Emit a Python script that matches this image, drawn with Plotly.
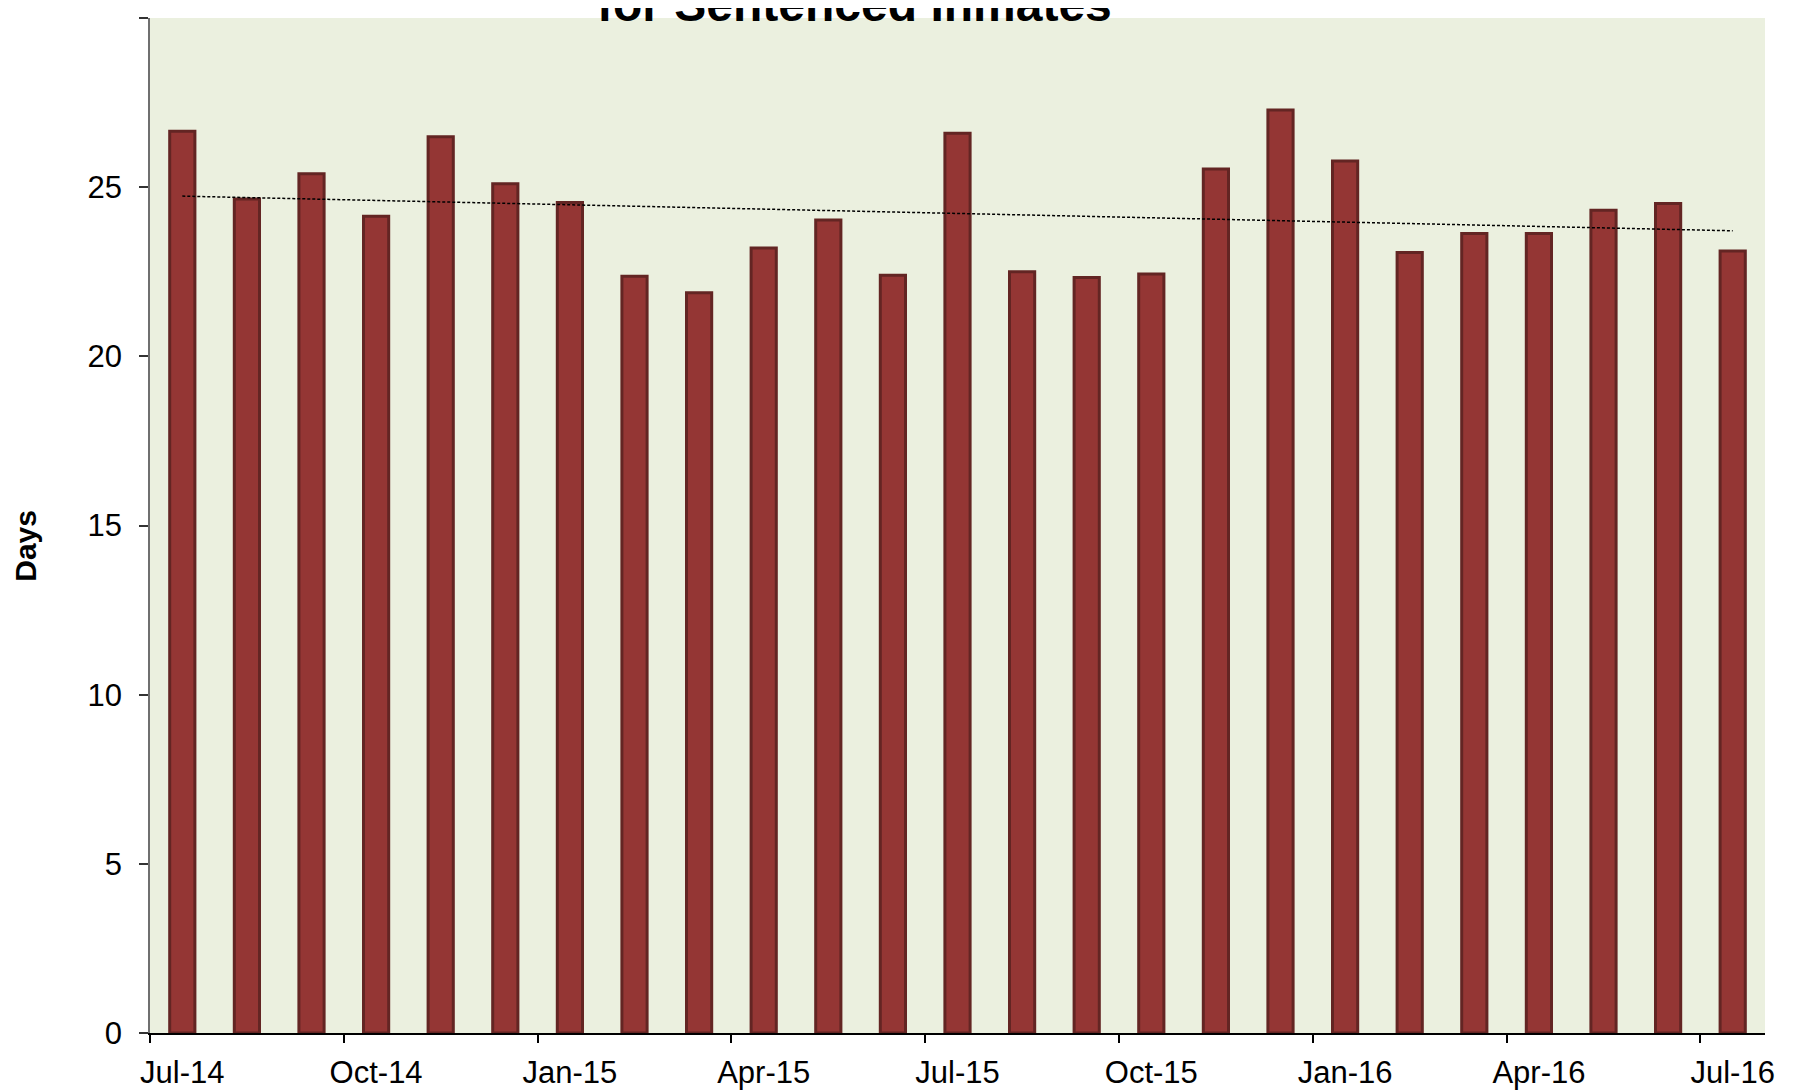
import numpy as np
import plotly.graph_objects as go

months = [
    "Jul-14", "Aug-14", "Sep-14", "Oct-14", "Nov-14", "Dec-14",
    "Jan-15", "Feb-15", "Mar-15", "Apr-15", "May-15", "Jun-15",
    "Jul-15", "Aug-15", "Sep-15", "Oct-15", "Nov-15", "Dec-15",
    "Jan-16", "Feb-16", "Mar-16", "Apr-16", "May-16", "Jun-16",
    "Jul-16",
]
days = [
    26.65, 24.65, 25.40, 24.14, 26.49, 25.10,
    24.55, 22.37, 21.88, 23.20, 24.03, 22.40,
    26.59, 22.50, 22.33, 22.43, 25.54, 27.28,
    25.77, 23.07, 23.63, 23.63, 24.32, 24.52,
    23.11,
]
title_text = "for Sentenced Inmates"
y_title = "Days"

FONT = "Liberation Sans, Arial, sans-serif"

# each month is one slot on a linear axis, bars sit in the middle of the slot
idx = np.arange(len(months))
x_mid = idx + 0.5

# linear trend line, as Excel draws it
slope, intercept = np.polyfit(idx, days, 1)
trend = slope * idx + intercept

fig = go.Figure()

fig.add_trace(go.Bar(
    x=x_mid, y=days, width=0.39,
    marker=dict(color="#943634", line=dict(color="#632523", width=3)),
    showlegend=False,
))

fig.add_trace(go.Scatter(
    x=x_mid, y=trend, mode="lines",
    line=dict(color="black", width=1.5, dash="3px,2px"),
    showlegend=False,
))

label_idx = idx[::3]

# page has an 8px body margin, so margins are set 8px smaller
fig.update_layout(
    width=1797, height=1090,
    margin=dict(l=142, r=40, t=9.5, b=65, autoexpand=False),
    paper_bgcolor="white",
    plot_bgcolor="#EBF0DF",
    font=dict(family=FONT, size=31, color="black"),
    xaxis=dict(
        range=[0, len(months)],
        tickmode="array",
        tickvals=label_idx + 0.5,
        ticktext=[months[i] for i in label_idx],
        ticks="",
        showgrid=False, zeroline=False,
        showline=True, linecolor="black", linewidth=1.5,
        ticklabelstandoff=11,
    ),
    xaxis2=dict(
        overlaying="x", anchor="y", side="bottom",
        range=[0, len(months)],
        tickmode="array",
        tickvals=label_idx,
        ticktext=[""] * len(label_idx),
        ticks="outside", ticklen=9, tickwidth=1.5, tickcolor="black",
        showgrid=False, zeroline=False, showline=False,
    ),
    yaxis=dict(
        range=[0, 30], dtick=5,
        ticks="outside", ticklen=9, tickwidth=1.5, tickcolor="#333333",
        showgrid=False, zeroline=False,
        showline=True, linecolor="#6f6f6f", linewidth=1.5,
        ticklabelstandoff=11,
    ),
    annotations=[
        dict(
            text="<b>" + title_text + "</b>",
            xref="paper", yref="paper", x=0.436, y=1.0133,
            xanchor="center", yanchor="middle", showarrow=False,
            font=dict(family=FONT, size=48, color="black"),
        ),
        dict(
            text="<b>" + y_title + "</b>",
            xref="paper", yref="paper", x=-0.0768, y=0.48,
            xanchor="center", yanchor="middle", showarrow=False,
            textangle=-90,
            font=dict(family=FONT, size=30, color="black"),
        ),
    ],
)

# dummy invisible trace so xaxis2 gets drawn
fig.add_trace(go.Scatter(x=[0], y=[0], xaxis="x2", mode="markers",
                         marker=dict(opacity=0), showlegend=False, hoverinfo="skip"))

fig.write_html("out.html")
